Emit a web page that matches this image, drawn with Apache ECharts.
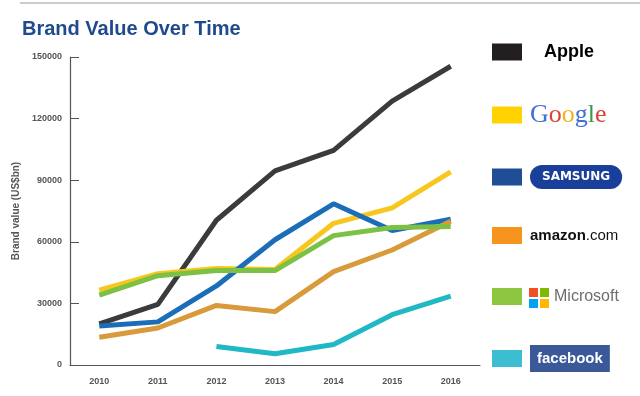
<!DOCTYPE html>
<html>
<head>
<meta charset="utf-8">
<script src="https://cdn.jsdelivr.net/npm/echarts@6/dist/echarts.min.js"></script>
<style>
html, body { margin: 0; padding: 0; background: #fff; }
#chart { width: 640px; height: 396px; }
</style>
</head>
<body>
<div id="chart"></div>
<script>
// data
var years = ['2010', '2011', '2012', '2013', '2014', '2015', '2016'];
var apple = [20000, 29500, 70500, 94500, 104500, 128500, 145500];
var google = [36500, 44500, 47000, 46500, 69000, 76500, 94000];
var samsung = [19000, 21000, 38500, 61000, 78500, 65500, 71000];
var amazon = [13500, 18000, 29000, 26000, 45500, 56000, 70000];
var microsoft = [34000, 43500, 46000, 46000, 63000, 67000, 67500];
var facebook = [null, null, 9000, 5500, 10000, 24500, 33500];
var brands = ['Apple', 'Google', 'Samsung', 'Amazon', 'Microsoft', 'Facebook'];

var lineColors = ['#3b3b3b', '#f7c71f', '#1a6db6', '#d99a3c', '#7cc143', '#1fb8c4'];
var swatchColors = ['#231f20', '#ffd200', '#1f4e96', '#f7941d', '#8dc63f', '#3cbdd2'];
// top of each legend row
var legendTops = [38, 97, 160, 222, 283, 340];

var chart = echarts.init(document.getElementById('chart'));

function legendLabel(name) {
    if (name === 'Apple') return '{apple|Apple}';
    if (name === 'Google') return '{gb|G}{gr|o}{gy|o}{gb|g}{gg|l}{gr|e}';
    if (name === 'Samsung') return '{sam|SAMSUNG}';
    if (name === 'Amazon') return '{amz|amazon}{com|.com}';
    if (name === 'Microsoft') return '{sp| }{ms|Microsoft}';
    return '{fb|facebook}';
}

var richText = {
    apple: { fontSize: 18, fontWeight: 'bold', color: '#000', fontFamily: 'Liberation Sans', lineHeight: 28, padding: [0, 0, 0, 14] },
    gb: { fontSize: 26, color: '#3f6fd8', fontFamily: 'Liberation Serif', lineHeight: 28 },
    gr: { fontSize: 26, color: '#d84436', fontFamily: 'Liberation Serif', lineHeight: 28 },
    gy: { fontSize: 26, color: '#f0b51c', fontFamily: 'Liberation Serif', lineHeight: 28 },
    gg: { fontSize: 26, color: '#3a9a4a', fontFamily: 'Liberation Serif', lineHeight: 28 },
    sam: {
        fontSize: 12, fontWeight: 'bold', color: '#fff', backgroundColor: '#1a3f9a',
        borderRadius: 14, lineHeight: 16, padding: [6, 12, 6, 12], fontFamily: 'DejaVu Sans'
    },
    amz: { fontSize: 15, fontWeight: 'bold', color: '#111', fontFamily: 'Liberation Sans', lineHeight: 28 },
    com: { fontSize: 15, color: '#111', fontFamily: 'Liberation Sans', lineHeight: 28 },
    sp: { width: 24, lineHeight: 28 },
    ms: { fontSize: 16, color: '#6d6d6d', fontFamily: 'Liberation Sans', lineHeight: 28 },
    fb: {
        fontSize: 15, fontWeight: 'bold', color: '#fff', backgroundColor: '#3b5998',
        lineHeight: 16, padding: [6, 7, 6, 7], fontFamily: 'Liberation Sans'
    }
};

var seriesData = [apple, google, samsung, amazon, microsoft, facebook];

var legends = brands.map(function (b, i) {
    return {
        orient: 'vertical',
        left: 487,
        top: legendTops[i],
        itemWidth: 30,
        itemHeight: 17,
        icon: 'rect',
        data: [{ name: b, itemStyle: { color: swatchColors[i] } }],
        formatter: legendLabel,
        textStyle: { padding: [0, 0, 0, 3], rich: richText }
    };
});

var option = {
    animation: false,
    title: {
        text: 'Brand Value Over Time',
        left: 17,
        top: 14,
        textStyle: {
            color: '#1f4a8c',
            fontWeight: 'bold',
            fontSize: 20,
            fontFamily: 'Liberation Sans'
        }
    },
    graphic: [
        { type: 'line', shape: { x1: 20, y1: 3, x2: 640, y2: 3 }, style: { stroke: '#9a9a9a', lineWidth: 1 } },
        // windows logo
        { type: 'rect', shape: { x: 529, y: 288, width: 9, height: 9 }, style: { fill: '#f25022' } },
        { type: 'rect', shape: { x: 540, y: 288, width: 9, height: 9 }, style: { fill: '#7fba00' } },
        { type: 'rect', shape: { x: 529, y: 299, width: 9, height: 9 }, style: { fill: '#00a4ef' } },
        { type: 'rect', shape: { x: 540, y: 299, width: 9, height: 9 }, style: { fill: '#ffb900' } }
    ],
    legend: legends,
    grid: {
        left: 70,
        right: 160,
        top: 57,
        bottom: 31
    },
    xAxis: {
        type: 'category',
        data: years,
        boundaryGap: true,
        axisLine: { lineStyle: { color: '#555', width: 1.2 } },
        axisTick: { inside: true, length: 7, lineStyle: { color: '#555' } },
        axisLabel: {
            color: '#555',
            fontWeight: 'bold',
            fontSize: 9,
            margin: 12,
            fontFamily: 'Liberation Sans'
        }
    },
    yAxis: {
        type: 'value',
        min: 0,
        max: 150000,
        interval: 30000,
        name: 'Brand value (US$bn)',
        nameLocation: 'middle',
        nameGap: 48,
        nameTextStyle: {
            color: '#555',
            fontWeight: 'bold',
            fontSize: 10,
            fontFamily: 'Liberation Sans'
        },
        splitLine: { show: false },
        axisLine: { show: true, lineStyle: { color: '#555', width: 1.2 } },
        axisTick: { show: true, inside: true, length: 9, lineStyle: { color: '#555' } },
        axisLabel: {
            color: '#555',
            fontWeight: 'bold',
            fontSize: 9,
            margin: 8,
            fontFamily: 'Liberation Sans',
            formatter: function (v) { return String(v); }
        }
    },
    series: brands.map(function (b, i) {
        return {
            name: b,
            type: 'line',
            data: seriesData[i],
            symbol: 'none',
            connectNulls: false,
            lineStyle: { color: lineColors[i], width: 5 },
            itemStyle: { color: lineColors[i] }
        };
    })
};
chart.setOption(option);
</script>
</body>
</html>
